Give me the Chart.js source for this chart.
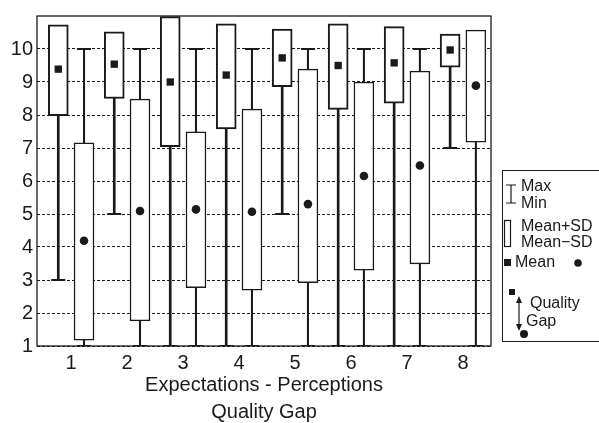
<!DOCTYPE html>
<html>
<head>
<meta charset="utf-8">
<script src="https://cdn.jsdelivr.net/npm/chart.js@4.4.1/dist/chart.umd.min.js"></script>
<style>
  html, body { margin: 0; padding: 0; background: #fff; }
  canvas { display: block; }
</style>
</head>
<body>
<canvas id="gapChart" width="599" height="423"></canvas>
<script>
// ── values ──
const categories = [1, 2, 3, 4, 5, 6, 7, 8];
const yTicks = [1, 2, 3, 4, 5, 6, 7, 8, 9, 10];

// Expectations (square = mean)
const expMean = [9.39, 9.54, 9.00, 9.21, 9.73, 9.50, 9.58, 9.97];
const expHigh = [10.73, 10.52, 10.98, 10.76, 10.60, 10.76, 10.68, 10.45]; // mean+SD
const expLow  = [7.98, 8.50, 7.04, 7.58, 8.86, 8.17, 8.36, 9.45];         // mean-SD
const expMin  = [3, 5, 1, 1, 5, 1, 1, 7];
const expMax  = [10, 10, 10, 10, 10, 10, 10, 10];

// Perceptions (circle = mean)
const percMean = [4.19, 5.09, 5.14, 5.07, 5.30, 6.15, 6.47, 8.89];
const percHigh = [7.16, 8.48, 7.49, 8.18, 9.39, 9.00, 9.33, 10.57];
const percLow  = [1.18, 1.76, 2.77, 2.69, 2.92, 3.30, 3.49, 7.18];
const percMin  = [1, 1, 1, 1, 1, 1, 1, 1];
const percMax  = [10, 10, 10, 10, 10, 10, 10, 10];

const INK = '#1a1a1a';
const FONT = "'Liberation Sans', Arial, sans-serif";
const SHIFT = 0.23;
const expX = categories.map(c => c - SHIFT);
const percX = categories.map(c => c + SHIFT);

const pts = (xs, ys) => xs.map((x, i) => ({ x, y: ys[i] }));
const span = (xs, lo, hi) => xs.map((x, i) => ({ x, y: [lo[i], hi[i]] }));

// ── frame round the plot ──
const framePlugin = {
    id: 'frame',
    afterDatasetsDraw(chart) {
        const { ctx, chartArea: a } = chart;
        ctx.save();
        ctx.strokeStyle = INK;
        ctx.lineWidth = 1.3;
        ctx.strokeRect(a.left, a.top, a.right - a.left, a.bottom - a.top);
        ctx.restore();
    }
};

// ── legend box on the right ──
const keyPlugin = {
    id: 'key',
    afterDraw(chart) {
        const ctx = chart.ctx;
        ctx.save();
        ctx.strokeStyle = INK;
        ctx.fillStyle = INK;
        ctx.lineWidth = 1;
        ctx.strokeRect(502.5, 170.5, 110, 171);

        ctx.font = `16px ${FONT}`;
        ctx.textBaseline = 'middle';
        ctx.textAlign = 'left';

        // max / min
        ctx.lineWidth = 1.2;
        ctx.beginPath();
        ctx.moveTo(511, 185); ctx.lineTo(511, 203);
        ctx.moveTo(506, 185); ctx.lineTo(516, 185);
        ctx.moveTo(506, 203); ctx.lineTo(516, 203);
        ctx.stroke();
        ctx.fillText('Max', 521, 187);
        ctx.fillText('Min', 521, 204);

        // box
        ctx.strokeRect(504.5, 220.5, 6, 26);
        ctx.fillText('Mean+SD', 521, 227);
        ctx.fillText('Mean\u2212SD', 521, 243);

        // means
        ctx.fillRect(504, 259, 7, 7);
        ctx.fillText('Mean', 515, 263);
        ctx.beginPath(); ctx.arc(578, 263, 3.8, 0, Math.PI * 2); ctx.fill();

        // quality gap arrow
        ctx.fillRect(509, 289, 6, 6);
        ctx.beginPath();
        ctx.moveTo(519, 299); ctx.lineTo(519, 328);
        ctx.stroke();
        ctx.beginPath();
        ctx.moveTo(519, 296); ctx.lineTo(516, 303); ctx.lineTo(522, 303); ctx.closePath();
        ctx.moveTo(519, 331); ctx.lineTo(516, 324); ctx.lineTo(522, 324); ctx.closePath();
        ctx.fill();
        ctx.beginPath(); ctx.arc(524, 334, 4, 0, Math.PI * 2); ctx.fill();
        ctx.fillText('Quality', 530, 304);
        ctx.fillText('Gap', 526, 322);
        ctx.restore();
    }
};

new Chart(document.getElementById('gapChart'), {
    type: 'bar',
    data: {
        datasets: [
            { type: 'scatter', data: pts(expX, expMean), pointStyle: 'rect', radius: 5.2, backgroundColor: INK, borderWidth: 0 },
            { type: 'scatter', data: pts(percX, percMean), pointStyle: 'circle', radius: 4.3, backgroundColor: INK, borderWidth: 0 },
            { data: span(expX, expLow, expHigh), backgroundColor: '#fff', borderColor: INK, borderWidth: 2, barThickness: 20 },
            { data: span(percX, percLow, percHigh), backgroundColor: '#fff', borderColor: INK, borderWidth: 1.5, barThickness: 20 },
            {
                type: 'scatter',
                data: [...pts(expX, expMin), ...pts(expX, expMax), ...pts(percX, percMin), ...pts(percX, percMax)],
                pointStyle: 'line', radius: 7, borderColor: INK, borderWidth: 2
            },
            { data: span(expX, expMin, expMax), backgroundColor: INK, borderWidth: 0, barThickness: 2 },
            { data: span(percX, percMin, percMax), backgroundColor: INK, borderWidth: 0, barThickness: 1.4 }
        ]
    },
    options: {
        responsive: false,
        animation: false,
        datasets: { bar: { grouped: false, borderSkipped: false } },
        layout: { padding: { left: 0, top: 16, right: 108, bottom: 0 } },
        plugins: { legend: { display: false }, tooltip: { enabled: false } },
        scales: {
            x: {
                type: 'linear', min: 0.39, max: 8.5, offset: false,
                afterBuildTicks: s => { s.ticks = categories.map(v => ({ value: v })); },
                afterFit: s => { s.height = 77; },
                grid: { display: false, drawTicks: false },
                border: { display: false },
                ticks: { color: INK, font: { family: FONT, size: 20 }, padding: 5, maxRotation: 0 },
                title: {
                    display: true,
                    text: ['Expectations - Perceptions', 'Quality Gap'],
                    color: INK,
                    font: { family: FONT, size: 20, lineHeight: 1.35 },
                    padding: { top: 0, bottom: -2.5 }
                }
            },
            y: {
                min: 1, max: 11,
                afterBuildTicks: s => { s.ticks = yTicks.map(v => ({ value: v })); },
                afterFit: s => { s.width = 37; },
                grid: { color: INK, lineWidth: 1, drawTicks: false },
                border: { display: false, dash: [3, 2] },
                ticks: { color: INK, font: { family: FONT, size: 20 }, padding: 4 }
            }
        }
    },
    plugins: [framePlugin, keyPlugin]
});
</script>
</body>
</html>
